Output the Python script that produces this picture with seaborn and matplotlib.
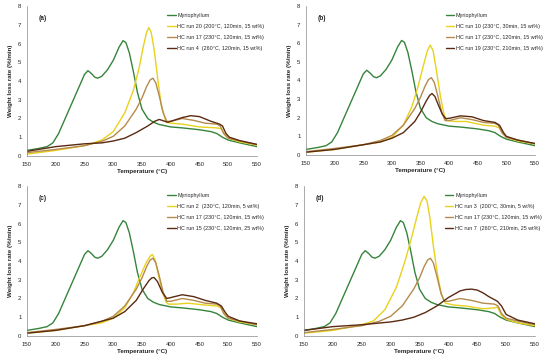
import matplotlib
matplotlib.use("Agg")
import matplotlib.pyplot as plt
import seaborn as sns
import pandas as pd

# Myriophyllum (same in every panel)
myr_T = [150, 170, 185, 195, 205, 215, 225, 235, 245, 250, 256, 262, 268, 273, 280, 290, 300, 310, 317, 322, 328, 335, 342, 350, 360, 370, 380, 400, 420, 450, 470, 480, 490, 500, 520, 550]
myr_v = [0.3, 0.4, 0.5, 0.7, 1.2, 1.9, 2.6, 3.3, 4.0, 4.35, 4.55, 4.4, 4.2, 4.15, 4.25, 4.6, 5.1, 5.8, 6.15, 6.05, 5.5, 4.5, 3.4, 2.5, 2.0, 1.8, 1.68, 1.55, 1.5, 1.4, 1.3, 1.2, 1.0, 0.85, 0.7, 0.5]

# HC run 17 (shared)
r17_T = [150, 200, 250, 280, 300, 320, 340, 350, 358, 364, 369, 374, 380, 387, 393, 400, 420, 440, 460, 480, 486, 492, 500, 520, 550]
r17_v = [0.18, 0.35, 0.55, 0.78, 1.05, 1.6, 2.5, 3.1, 3.7, 4.05, 4.15, 3.9, 3.2, 2.3, 1.85, 1.85, 2.0, 1.9, 1.75, 1.7, 1.6, 1.2, 0.95, 0.8, 0.6]

# Panel (a)
a20_T = [150, 200, 250, 280, 300, 320, 335, 345, 352, 358, 362, 366, 371, 377, 384, 392, 400, 420, 450, 480, 488, 495, 500, 520, 550]
a20_v = [0.1, 0.3, 0.55, 0.85, 1.3, 2.3, 3.5, 4.7, 5.8, 6.6, 6.85, 6.6, 5.7, 4.2, 2.6, 1.8, 1.75, 1.7, 1.55, 1.5, 1.45, 1.1, 0.95, 0.75, 0.58]
a4_T = [150, 180, 200, 250, 280, 300, 320, 340, 360, 372, 380, 388, 395, 410, 420, 435, 450, 470, 485, 490, 496, 502, 520, 550]
a4_v = [0.25, 0.4, 0.5, 0.65, 0.7, 0.8, 0.95, 1.25, 1.6, 1.85, 1.95, 1.87, 1.8, 1.95, 2.05, 2.15, 2.1, 1.85, 1.7, 1.6, 1.2, 1.0, 0.82, 0.62]

# Panel (b)
b10_T = [150, 200, 250, 280, 300, 320, 335, 345, 355, 362, 367, 372, 378, 385, 391, 396, 410, 430, 460, 480, 488, 495, 500, 520, 550]
b10_v = [0.15, 0.3, 0.55, 0.7, 0.95, 1.6, 2.6, 3.6, 4.8, 5.6, 5.9, 5.6, 4.5, 3.1, 2.2, 1.85, 1.8, 1.8, 1.6, 1.55, 1.45, 1.15, 0.95, 0.75, 0.6]
b19_T = [150, 200, 250, 280, 300, 320, 340, 350, 360, 366, 370, 375, 381, 388, 394, 400, 420, 440, 460, 480, 488, 495, 500, 520, 550]
b19_v = [0.15, 0.3, 0.55, 0.7, 0.9, 1.2, 1.8, 2.3, 2.9, 3.2, 3.3, 3.15, 2.7, 2.2, 1.95, 1.97, 2.1, 2.05, 1.85, 1.75, 1.6, 1.2, 1.0, 0.8, 0.62]

# Panel (c)
c2_T = [150, 200, 250, 280, 300, 320, 335, 347, 357, 364, 368, 373, 379, 386, 392, 396, 410, 430, 460, 480, 488, 495, 500, 520, 550]
c2_v = [0.15, 0.3, 0.55, 0.7, 0.95, 1.5, 2.3, 3.2, 3.9, 4.25, 4.35, 4.05, 3.2, 2.3, 1.8, 1.7, 1.7, 1.75, 1.65, 1.6, 1.5, 1.1, 0.95, 0.75, 0.6]
c15_T = [150, 200, 250, 300, 320, 340, 352, 362, 367, 371, 377, 385, 393, 400, 420, 440, 460, 480, 488, 495, 500, 520, 550]
c15_v = [0.15, 0.3, 0.55, 0.95, 1.3, 1.9, 2.5, 2.95, 3.1, 3.12, 2.9, 2.35, 2.0, 2.05, 2.2, 2.1, 1.9, 1.75, 1.6, 1.25, 1.05, 0.8, 0.65]

# Panel (d)
d3_T = [150, 200, 250, 270, 290, 310, 325, 335, 345, 352, 358, 363, 368, 374, 381, 388, 395, 410, 430, 460, 480, 485, 492, 500, 520, 550]
d3_v = [0.15, 0.3, 0.6, 0.8, 1.4, 2.6, 4.0, 5.1, 6.3, 7.1, 7.45, 7.2, 6.3, 4.8, 3.3, 2.2, 1.75, 1.65, 1.6, 1.45, 1.5, 1.55, 1.1, 0.9, 0.7, 0.55]
d7_T = [150, 200, 250, 300, 320, 340, 360, 380, 400, 420, 430, 440, 450, 460, 470, 485, 492, 500, 520, 550]
d7_v = [0.3, 0.5, 0.6, 0.75, 0.85, 1.0, 1.25, 1.6, 2.05, 2.4, 2.48, 2.5, 2.45, 2.3, 2.1, 1.85, 1.6, 1.15, 0.85, 0.65]

panels = [
    ("(a)", [("Myriophyllum", myr_T, myr_v),
             ("HC run 20 (200°C, 120min, 15 wt%)", a20_T, a20_v),
             ("HC run 17 (230°C, 120min, 15 wt%)", r17_T, r17_v),
             ("HC run 4  (260°C, 120min, 15 wt%)", a4_T, a4_v)]),
    ("(b)", [("Myriophyllum", myr_T, myr_v),
             ("HC run 10 (230°C, 30min, 15 wt%)", b10_T, b10_v),
             ("HC run 17 (230°C, 120min, 15 wt%)", r17_T, r17_v),
             ("HC run 19 (230°C, 210min, 15 wt%)", b19_T, b19_v)]),
    ("(c)", [("Myriophyllum", myr_T, myr_v),
             ("HC run 2  (230°C, 120min, 5 wt%)", c2_T, c2_v),
             ("HC run 17 (230°C, 120min, 15 wt%)", r17_T, r17_v),
             ("HC run 15 (230°C, 120min, 25 wt%)", c15_T, c15_v)]),
    ("(d)", [("Myriophyllum", myr_T, myr_v),
             ("HC run 3  (200°C, 30min, 5 wt%)", d3_T, d3_v),
             ("HC run 17 (230°C, 120min, 15 wt%)", r17_T, r17_v),
             ("HC run 7  (260°C, 210min, 25 wt%)", d7_T, d7_v)]),
]
colors = ["#36843c", "#e8d21c", "#b58a4c", "#5a2a12"]

sns.set_style("white")
plt.rcParams['font.family'] = ['Liberation Sans', 'DejaVu Sans']

fig = plt.figure(figsize=(5.5, 3.6), dpi=100)
boxes = [(27, 6, 257, 156), (306, 6, 535, 155), (27, 186, 257, 336), (304, 186, 535, 336)]
for (tag, series), (x0, y0, x1, y1) in zip(panels, boxes):
    ax = fig.add_axes([x0 / 550, 1 - y1 / 360, (x1 - x0) / 550, (y1 - y0) / 360])
    rows = []
    for name, T, v in series:
        for t, val in zip(T, v):
            rows.append({"T": t, "v": val, "s": name})
    df = pd.DataFrame(rows)
    names = [s[0] for s in series]
    sns.lineplot(data=df, x="T", y="v", hue="s", hue_order=names,
                 palette=dict(zip(names, colors)), sort=True, lw=1.0, ax=ax)
    ax.set_xlim(150, 550)
    ax.set_ylim(0, 8)
    ax.set_xticks(range(150, 551, 50))
    ax.set_yticks(range(0, 9))
    ax.tick_params(labelsize=4.3, length=2, width=0.5, pad=2, direction="out")
    for sp in ["top", "right"]:
        ax.spines[sp].set_visible(False)
    for sp in ["left", "bottom"]:
        ax.spines[sp].set_linewidth(0.5)
        ax.spines[sp].set_color("#888888")
    ax.set_xlabel("Temperature (°C)", fontsize=4.5, fontweight="bold", labelpad=2)
    ax.set_ylabel("Weight loss rate (%/min)", fontsize=4.5, fontweight="bold", labelpad=4)
    ax.text(0.05, 0.94, tag, transform=ax.transAxes, fontsize=4.7, fontweight="bold", va="top")
    leg = ax.legend(loc="upper left", bbox_to_anchor=(0.6, 0.97), frameon=False,
                    fontsize=3.9, handlelength=1.6, handletextpad=0.3, labelspacing=1.1,
                    borderaxespad=0)
    for l in leg.get_lines():
        l.set_linewidth(1.0)

fig.savefig("out.png", dpi=100)
